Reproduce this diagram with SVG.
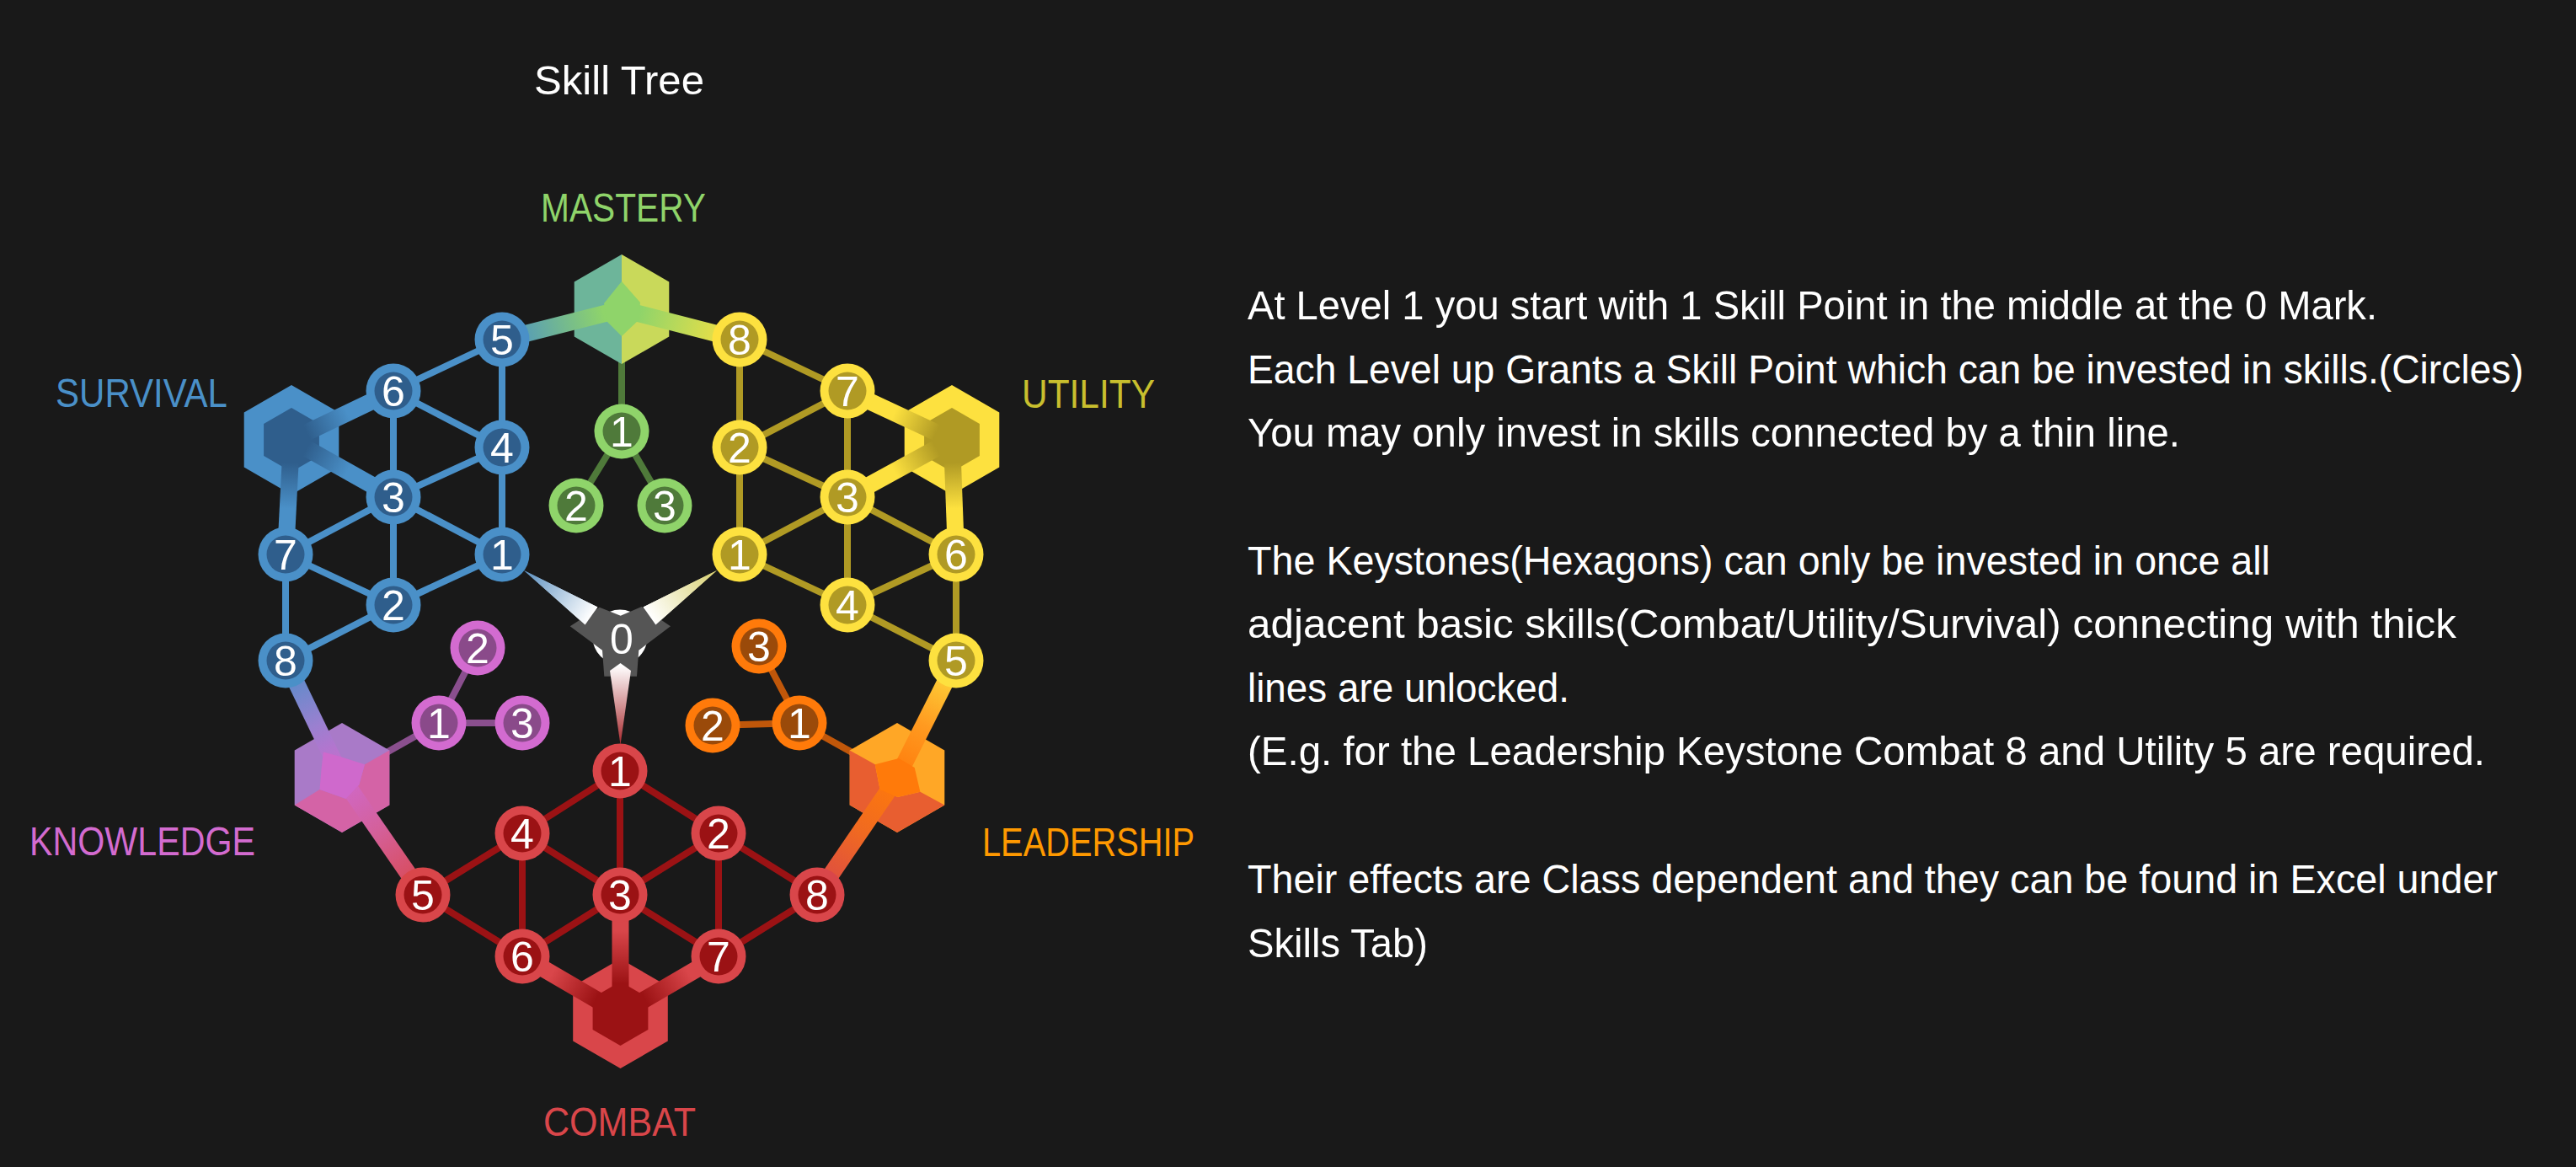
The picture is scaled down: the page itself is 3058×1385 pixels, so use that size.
<svg xmlns="http://www.w3.org/2000/svg" width="3058" height="1385" viewBox="0 0 3058 1385">
<style>
  .t { font-family: "Liberation Sans Narrow", "Liberation Sans", "DejaVu Sans Condensed", sans-serif; }
  .num { font-family: "Liberation Sans Narrow", "Liberation Sans", sans-serif; font-size: 50px; fill: #ffffff; text-anchor: middle; }
  .note { font-family: "Liberation Sans Narrow", "Liberation Sans", sans-serif; font-size: 49px; fill: #ffffff; }
  .lbl { font-family: "Liberation Sans Narrow", "Liberation Sans", sans-serif; font-size: 49px; }
  .thin { fill: none; stroke-width: 8; stroke-linecap: round; }
  .thick { fill: none; stroke-width: 20; }
  .bl { stroke: #4a90c8; } .yl { stroke: #b09a24; } .rl { stroke: #9b1214; }
  .gl { stroke: #4f7a3a; } .pl { stroke: #8a4f8e; } .ol { stroke: #c0570a; }
  .bo { fill: #4a90c8; } .bi { fill: #2f5e8c; }
  .yo { fill: #fde13f; } .yi { fill: #b09a24; }
  .ro { fill: #d9464a; } .ri { fill: #9b1214; }
  .go { fill: #8fd46a; } .gi { fill: #4f7a3a; }
  .po { fill: #d36bd0; } .pi { fill: #8a4a8a; }
  .oo { fill: #ff7a0a; } .oi { fill: #9a4a0a; }
</style>
<defs>
  <linearGradient id="gS6" gradientUnits="userSpaceOnUse" x1="467" y1="464" x2="346" y2="522"><stop offset="0" stop-color="#4a90c8"/><stop offset="0.45" stop-color="#4a90c8"/><stop offset="0.85" stop-color="#2f5e8c"/></linearGradient>
  <linearGradient id="gS3" gradientUnits="userSpaceOnUse" x1="467" y1="590" x2="346" y2="522"><stop offset="0" stop-color="#4a90c8"/><stop offset="0.45" stop-color="#4a90c8"/><stop offset="0.85" stop-color="#2f5e8c"/></linearGradient>
  <linearGradient id="gS7" gradientUnits="userSpaceOnUse" x1="339" y1="658" x2="346" y2="522"><stop offset="0" stop-color="#4a90c8"/><stop offset="0.4" stop-color="#4a90c8"/><stop offset="0.8" stop-color="#2f5e8c"/></linearGradient>
  <linearGradient id="gU7" gradientUnits="userSpaceOnUse" x1="1006" y1="464" x2="1130" y2="522"><stop offset="0" stop-color="#fde13f"/><stop offset="0.45" stop-color="#fde13f"/><stop offset="0.85" stop-color="#b09a24"/></linearGradient>
  <linearGradient id="gU3" gradientUnits="userSpaceOnUse" x1="1006" y1="590" x2="1130" y2="522"><stop offset="0" stop-color="#fde13f"/><stop offset="0.45" stop-color="#fde13f"/><stop offset="0.85" stop-color="#b09a24"/></linearGradient>
  <linearGradient id="gU6" gradientUnits="userSpaceOnUse" x1="1135" y1="658" x2="1130" y2="522"><stop offset="0" stop-color="#fde13f"/><stop offset="0.4" stop-color="#fde13f"/><stop offset="0.8" stop-color="#b09a24"/></linearGradient>
  <linearGradient id="gC6" gradientUnits="userSpaceOnUse" x1="620" y1="1135" x2="736.5" y2="1203"><stop offset="0" stop-color="#d9464a"/><stop offset="0.3" stop-color="#d9464a"/><stop offset="0.75" stop-color="#9b1214"/></linearGradient>
  <linearGradient id="gC3" gradientUnits="userSpaceOnUse" x1="736.5" y1="1062" x2="736.5" y2="1203"><stop offset="0" stop-color="#d9464a"/><stop offset="0.3" stop-color="#d9464a"/><stop offset="0.75" stop-color="#9b1214"/></linearGradient>
  <linearGradient id="gC7" gradientUnits="userSpaceOnUse" x1="853" y1="1135" x2="736.5" y2="1203"><stop offset="0" stop-color="#d9464a"/><stop offset="0.3" stop-color="#d9464a"/><stop offset="0.75" stop-color="#9b1214"/></linearGradient>
  <linearGradient id="gM5" gradientUnits="userSpaceOnUse" x1="596" y1="403" x2="738" y2="367"><stop offset="0" stop-color="#4a90c8"/><stop offset="0.85" stop-color="#8fd46a"/></linearGradient>
  <linearGradient id="gM8" gradientUnits="userSpaceOnUse" x1="878" y1="403" x2="738" y2="367"><stop offset="0" stop-color="#fde13f"/><stop offset="0.85" stop-color="#8fd46a"/></linearGradient>
  <linearGradient id="gK8" gradientUnits="userSpaceOnUse" x1="339" y1="784" x2="406" y2="923"><stop offset="0" stop-color="#4a90c8"/><stop offset="0.55" stop-color="#9a80d0"/><stop offset="1" stop-color="#cf69cc"/></linearGradient>
  <linearGradient id="gK5" gradientUnits="userSpaceOnUse" x1="502" y1="1062" x2="406" y2="923"><stop offset="0" stop-color="#d9464a"/><stop offset="0.55" stop-color="#d4609a"/><stop offset="1" stop-color="#cf69cc"/></linearGradient>
  <linearGradient id="gL5" gradientUnits="userSpaceOnUse" x1="1135" y1="784" x2="1065" y2="923"><stop offset="0" stop-color="#fde13f"/><stop offset="0.55" stop-color="#ff9a20"/><stop offset="1" stop-color="#ff7a0a"/></linearGradient>
  <linearGradient id="gL8" gradientUnits="userSpaceOnUse" x1="970" y1="1062" x2="1065" y2="923"><stop offset="0" stop-color="#d9464a"/><stop offset="0.55" stop-color="#f06a20"/><stop offset="1" stop-color="#ff7a0a"/></linearGradient>
  <linearGradient id="gW1" gradientUnits="userSpaceOnUse" x1="622" y1="677" x2="702" y2="731"><stop offset="0" stop-color="#5a8fbf"/><stop offset="1" stop-color="#ffffff"/></linearGradient>
  <linearGradient id="gW2" gradientUnits="userSpaceOnUse" x1="851" y1="677" x2="771" y2="731"><stop offset="0" stop-color="#d8d070"/><stop offset="1" stop-color="#ffffff"/></linearGradient>
  <linearGradient id="gW3" gradientUnits="userSpaceOnUse" x1="736.5" y1="790" x2="736.5" y2="884"><stop offset="0" stop-color="#ffffff"/><stop offset="1" stop-color="#a8282c"/></linearGradient>
</defs>
<rect width="3058" height="1385" fill="#191919"/>

<text class="lbl" x="634" y="112" textLength="202" lengthAdjust="spacingAndGlyphs" fill="#ffffff" font-size="54">Skill Tree</text>
<text class="lbl" x="642" y="263" textLength="196" lengthAdjust="spacingAndGlyphs" fill="#8fd46a">MASTERY</text>
<text class="lbl" x="66" y="483" textLength="204" lengthAdjust="spacingAndGlyphs" fill="#4a90c8">SURVIVAL</text>
<text class="lbl" x="1213" y="484" textLength="158" lengthAdjust="spacingAndGlyphs" fill="#c8bf2e">UTILITY</text>
<text class="lbl" x="35" y="1015" textLength="268" lengthAdjust="spacingAndGlyphs" fill="#d36bd0">KNOWLEDGE</text>
<text class="lbl" x="1166" y="1016" textLength="252" lengthAdjust="spacingAndGlyphs" fill="#ff9900">LEADERSHIP</text>
<text class="lbl" x="645" y="1348" textLength="181" lengthAdjust="spacingAndGlyphs" fill="#d9464a">COMBAT</text>

<g id="connectors">
  <g id="thin-lines">
    <path class="thin bl" d="M596 403L467 464M596 403L596 531M467 464L596 531M467 464L467 590M596 531L467 590M596 531L596 658M467 590L339 658M467 590L596 658M467 590L467 718M339 658L467 718M339 658L339 784M467 718L596 658M467 718L339 784"/>
    <path class="thin yl" d="M878 403L1006 464M878 403L878 531M1006 464L878 531M1006 464L1006 590M878 531L1006 590M878 531L878 658M1006 590L878 658M1006 590L1135 658M1006 590L1006 718M878 658L1006 718M1135 658L1006 718M1135 658L1135 784M1006 718L1135 784"/>
    <path class="thin rl" d="M736 915L620 989M736 915L853 989M736 915L736 1062M620 989L502 1062M620 989L736 1062M620 989L620 1135M853 989L736 1062M853 989L853 1135M853 989L970 1062M502 1062L620 1135M736 1062L620 1135M736 1062L853 1135M853 1135L970 1062"/>
    <path class="thin gl" d="M738 367L738 512M738 512L684 600M738 512L789 600"/>
    <path class="thin pl" d="M406 923L521 858M521 858L567 769M521 858L620 858"/>
    <path class="thin ol" d="M1065 923L949 858M949 858L901 767M949 858L846 861"/>
  </g>
  <g id="start-wedges">
    <polygon points="622,677 709.4,720.4 694.6,741.6" fill="url(#gW1)"/>
    <polygon points="851,677 763.6,720.4 778.4,741.6" fill="url(#gW2)"/>
  </g>
</g>

<g id="keystone-survival">
  <polygon class="bo" points="346,457 402.3,489.5 402.3,554.5 346,587 289.7,554.5 289.7,489.5"/>
  <polygon class="bi" points="346,484 378.9,503 378.9,541 346,560 313.1,541 313.1,503"/>
</g>
<g id="keystone-utility">
  <polygon class="yo" points="1130,457 1186.3,489.5 1186.3,554.5 1130,587 1073.7,554.5 1073.7,489.5"/>
  <polygon class="yi" points="1130,484 1162.9,503 1162.9,541 1130,560 1097.1,541 1097.1,503"/>
</g>
<g id="keystone-combat">
  <polygon class="ro" points="736.5,1138 792.8,1170.5 792.8,1235.5 736.5,1268 680.2,1235.5 680.2,1170.5"/>
  <polygon class="ri" points="736.5,1165 769.4,1184 769.4,1222 736.5,1241 703.6,1222 703.6,1184"/>
</g>
<g id="keystone-mastery">
  <polygon fill="#6db59a" points="738,302 738,432 681.7,399.5 681.7,334.5"/>
  <polygon fill="#c9d95a" points="738,302 794.3,334.5 794.3,399.5 738,432"/>
</g>
<g id="keystone-knowledge">
  <polygon fill="#a97ac8" points="406,858 462.3,890.5 462.3,955.5 406,988 349.7,955.5 349.7,890.5"/>
  <polygon fill="#d463a6" points="349.7,955.5 406,988 462.3,955.5 462.3,890.5 433,907.3 426.3,931.3 410.7,948 379.5,936.9"/>
</g>
<g id="keystone-leadership">
  <polygon fill="#ffa726" points="1065,858 1121.3,890.5 1121.3,955.5 1065,988 1008.7,955.5 1008.7,890.5"/>
  <polygon fill="#e85e30" points="1008.7,890.5 1038.8,907.3 1044.6,936.9 1065.6,946.1 1092.4,939.8 1121.3,955.5 1065,988 1008.7,955.5"/>
</g>

<g id="thick-connectors">
  <line class="thick" x1="467" y1="464" x2="346" y2="522" stroke="url(#gS6)"/>
  <line class="thick" x1="467" y1="590" x2="346" y2="522" stroke="url(#gS3)"/>
  <line class="thick" x1="339" y1="658" x2="346" y2="522" stroke="url(#gS7)"/>
  <line class="thick" x1="1006" y1="464" x2="1130" y2="522" stroke="url(#gU7)"/>
  <line class="thick" x1="1006" y1="590" x2="1130" y2="522" stroke="url(#gU3)"/>
  <line class="thick" x1="1135" y1="658" x2="1130" y2="522" stroke="url(#gU6)"/>
  <line class="thick" x1="620" y1="1135" x2="736.5" y2="1203" stroke="url(#gC6)"/>
  <line class="thick" x1="736.5" y1="1062" x2="736.5" y2="1203" stroke="url(#gC3)"/>
  <line class="thick" x1="853" y1="1135" x2="736.5" y2="1203" stroke="url(#gC7)"/>
  <line class="thick" x1="596" y1="403" x2="738" y2="367" stroke="url(#gM5)"/>
  <line class="thick" x1="878" y1="403" x2="738" y2="367" stroke="url(#gM8)"/>
  <line class="thick" x1="339" y1="784" x2="406" y2="923" stroke="url(#gK8)"/>
  <line class="thick" x1="502" y1="1062" x2="406" y2="923" stroke="url(#gK5)"/>
  <line class="thick" x1="1135" y1="784" x2="1065" y2="923" stroke="url(#gL5)"/>
  <line class="thick" x1="970" y1="1062" x2="1065" y2="923" stroke="url(#gL8)"/>
</g>

<g id="keystone-centers">
  <polygon fill="#8fd46a" points="738,334 760,359 758,380 738,399 720,381 717,360"/>
  <polygon fill="#cf69cc" points="383.9,892.5 404,898 433,907.3 426.3,931.3 410.7,948 379.5,936.9 381.7,911"/>
  <polygon fill="#ff7a0a" points="1038.8,907.3 1067,899.9 1085.7,911 1092.4,939.8 1065.6,946.1 1044.6,936.9"/>
</g>

<g id="start-node">
  <circle cx="736" cy="756" r="32.5" fill="#ffffff"/>
  <polygon fill="#555555" points="676.7,743.3 711.7,720.7 736.7,730.7 761.7,720 796,743.3 758.3,771.7 756,802.7 717.3,802.7 715,771.7"/>
  <polygon points="622,677 709.4,720.4 694.6,741.6" fill="url(#gW1)"/>
  <polygon points="851,677 763.6,720.4 778.4,741.6" fill="url(#gW2)"/>
  <polygon points="724,796 736.5,787 749,796 736.5,884" fill="url(#gW3)"/>
  <text class="num" x="738" y="776">0</text>
</g>

<g id="survival-5"><circle class="bo" cx="596" cy="403" r="32.5"/><circle class="bi" cx="596" cy="403" r="22.5"/><text class="num" x="596" y="421">5</text></g>
<g id="survival-6"><circle class="bo" cx="467" cy="464" r="32.5"/><circle class="bi" cx="467" cy="464" r="22.5"/><text class="num" x="467" y="482">6</text></g>
<g id="survival-4"><circle class="bo" cx="596" cy="531" r="32.5"/><circle class="bi" cx="596" cy="531" r="22.5"/><text class="num" x="596" y="549">4</text></g>
<g id="survival-3"><circle class="bo" cx="467" cy="590" r="32.5"/><circle class="bi" cx="467" cy="590" r="22.5"/><text class="num" x="467" y="608">3</text></g>
<g id="survival-7"><circle class="bo" cx="339" cy="658" r="32.5"/><circle class="bi" cx="339" cy="658" r="22.5"/><text class="num" x="339" y="676">7</text></g>
<g id="survival-1"><circle class="bo" cx="596" cy="658" r="32.5"/><circle class="bi" cx="596" cy="658" r="22.5"/><text class="num" x="596" y="676">1</text></g>
<g id="survival-2"><circle class="bo" cx="467" cy="718" r="32.5"/><circle class="bi" cx="467" cy="718" r="22.5"/><text class="num" x="467" y="736">2</text></g>
<g id="survival-8"><circle class="bo" cx="339" cy="784" r="32.5"/><circle class="bi" cx="339" cy="784" r="22.5"/><text class="num" x="339" y="802">8</text></g>

<g id="utility-8"><circle class="yo" cx="878" cy="403" r="32.5"/><circle class="yi" cx="878" cy="403" r="22.5"/><text class="num" x="878" y="421">8</text></g>
<g id="utility-7"><circle class="yo" cx="1006" cy="464" r="32.5"/><circle class="yi" cx="1006" cy="464" r="22.5"/><text class="num" x="1006" y="482">7</text></g>
<g id="utility-2"><circle class="yo" cx="878" cy="531" r="32.5"/><circle class="yi" cx="878" cy="531" r="22.5"/><text class="num" x="878" y="549">2</text></g>
<g id="utility-3"><circle class="yo" cx="1006" cy="590" r="32.5"/><circle class="yi" cx="1006" cy="590" r="22.5"/><text class="num" x="1006" y="608">3</text></g>
<g id="utility-1"><circle class="yo" cx="878" cy="658" r="32.5"/><circle class="yi" cx="878" cy="658" r="22.5"/><text class="num" x="878" y="676">1</text></g>
<g id="utility-6"><circle class="yo" cx="1135" cy="658" r="32.5"/><circle class="yi" cx="1135" cy="658" r="22.5"/><text class="num" x="1135" y="676">6</text></g>
<g id="utility-4"><circle class="yo" cx="1006" cy="718" r="32.5"/><circle class="yi" cx="1006" cy="718" r="22.5"/><text class="num" x="1006" y="736">4</text></g>
<g id="utility-5"><circle class="yo" cx="1135" cy="784" r="32.5"/><circle class="yi" cx="1135" cy="784" r="22.5"/><text class="num" x="1135" y="802">5</text></g>

<g id="combat-1"><circle class="ro" cx="736" cy="915" r="32.5"/><circle class="ri" cx="736" cy="915" r="22.5"/><text class="num" x="736" y="933">1</text></g>
<g id="combat-4"><circle class="ro" cx="620" cy="989" r="32.5"/><circle class="ri" cx="620" cy="989" r="22.5"/><text class="num" x="620" y="1007">4</text></g>
<g id="combat-2"><circle class="ro" cx="853" cy="989" r="32.5"/><circle class="ri" cx="853" cy="989" r="22.5"/><text class="num" x="853" y="1007">2</text></g>
<g id="combat-5"><circle class="ro" cx="502" cy="1062" r="32.5"/><circle class="ri" cx="502" cy="1062" r="22.5"/><text class="num" x="502" y="1080">5</text></g>
<g id="combat-3"><circle class="ro" cx="736" cy="1062" r="32.5"/><circle class="ri" cx="736" cy="1062" r="22.5"/><text class="num" x="736" y="1080">3</text></g>
<g id="combat-8"><circle class="ro" cx="970" cy="1062" r="32.5"/><circle class="ri" cx="970" cy="1062" r="22.5"/><text class="num" x="970" y="1080">8</text></g>
<g id="combat-6"><circle class="ro" cx="620" cy="1135" r="32.5"/><circle class="ri" cx="620" cy="1135" r="22.5"/><text class="num" x="620" y="1153">6</text></g>
<g id="combat-7"><circle class="ro" cx="853" cy="1135" r="32.5"/><circle class="ri" cx="853" cy="1135" r="22.5"/><text class="num" x="853" y="1153">7</text></g>

<g id="mastery-1"><circle class="go" cx="738" cy="512" r="32.5"/><circle class="gi" cx="738" cy="512" r="22.5"/><text class="num" x="738" y="530">1</text></g>
<g id="mastery-2"><circle class="go" cx="684" cy="600" r="32.5"/><circle class="gi" cx="684" cy="600" r="22.5"/><text class="num" x="684" y="618">2</text></g>
<g id="mastery-3"><circle class="go" cx="789" cy="600" r="32.5"/><circle class="gi" cx="789" cy="600" r="22.5"/><text class="num" x="789" y="618">3</text></g>

<g id="knowledge-2"><circle class="po" cx="567" cy="769" r="32.5"/><circle class="pi" cx="567" cy="769" r="22.5"/><text class="num" x="567" y="787">2</text></g>
<g id="knowledge-1"><circle class="po" cx="521" cy="858" r="32.5"/><circle class="pi" cx="521" cy="858" r="22.5"/><text class="num" x="521" y="876">1</text></g>
<g id="knowledge-3"><circle class="po" cx="620" cy="858" r="32.5"/><circle class="pi" cx="620" cy="858" r="22.5"/><text class="num" x="620" y="876">3</text></g>

<g id="leadership-3"><circle class="oo" cx="901" cy="767" r="32.5"/><circle class="oi" cx="901" cy="767" r="22.5"/><text class="num" x="901" y="785">3</text></g>
<g id="leadership-1"><circle class="oo" cx="949" cy="858" r="32.5"/><circle class="oi" cx="949" cy="858" r="22.5"/><text class="num" x="949" y="876">1</text></g>
<g id="leadership-2"><circle class="oo" cx="846" cy="861" r="32.5"/><circle class="oi" cx="846" cy="861" r="22.5"/><text class="num" x="846" y="879">2</text></g>

<g id="notes">
  <text class="note" x="1481" y="379" textLength="1341" lengthAdjust="spacingAndGlyphs">At Level 1 you start with 1 Skill Point in the middle at the 0 Mark.</text>
  <text class="note" x="1481" y="455" textLength="1515" lengthAdjust="spacingAndGlyphs">Each Level up Grants a Skill Point which can be invested in skills.(Circles)</text>
  <text class="note" x="1481" y="530" textLength="1107" lengthAdjust="spacingAndGlyphs">You may only invest in skills connected by a thin line.</text>
  <text class="note" x="1481" y="682" textLength="1214" lengthAdjust="spacingAndGlyphs">The Keystones(Hexagons) can only be invested in once all</text>
  <text class="note" x="1481" y="757" textLength="1435" lengthAdjust="spacingAndGlyphs">adjacent basic skills(Combat/Utility/Survival) connecting with thick</text>
  <text class="note" x="1481" y="833" textLength="382" lengthAdjust="spacingAndGlyphs">lines are unlocked.</text>
  <text class="note" x="1481" y="908" textLength="1469" lengthAdjust="spacingAndGlyphs">(E.g. for the Leadership Keystone Combat 8 and Utility 5 are required.</text>
  <text class="note" x="1481" y="1060" textLength="1484" lengthAdjust="spacingAndGlyphs">Their effects are Class dependent and they can be found in Excel under</text>
  <text class="note" x="1481" y="1136" textLength="214" lengthAdjust="spacingAndGlyphs">Skills Tab)</text>
</g>
</svg>
